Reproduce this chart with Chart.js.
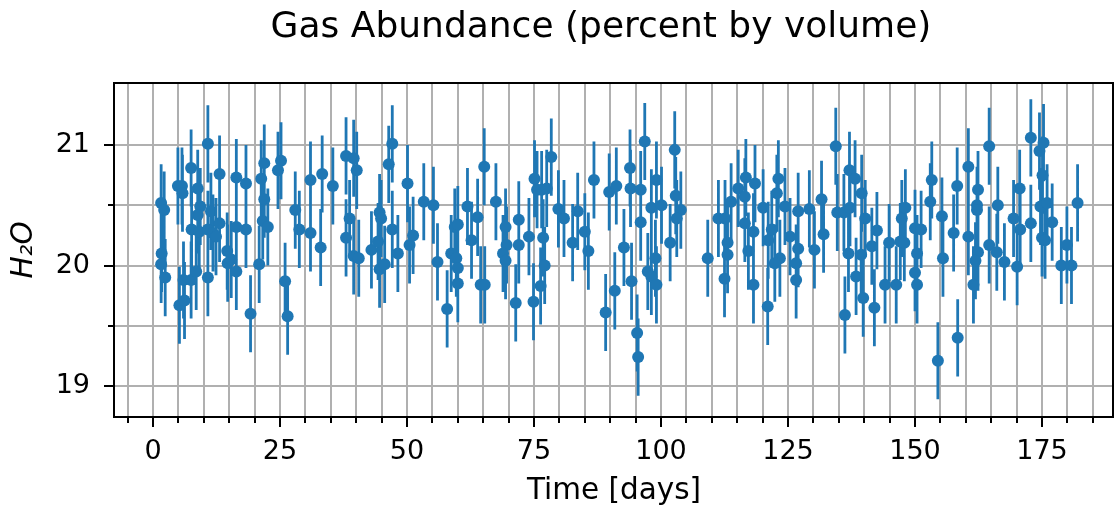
<!DOCTYPE html>
<html>
<head>
<meta charset="utf-8">
<script src="https://cdn.jsdelivr.net/npm/chart.js@4.4.1/dist/chart.umd.min.js"></script>
<style>
  html, body { margin: 0; padding: 0; background: #fff; }
  canvas { display: block; }
</style>
</head>
<body>
<canvas id="abundancia" width="1114" height="510"></canvas>
<script>
const titulo = "Gas Abundance (percent by volume)";

const days = [
  1.6, 2.2, 1.7, 1.6, 2.4, 4.9, 5.7, 5.8, 5.2, 6.2, 6.0, 7.5, 8.5, 7.5, 8.8, 9.3, 8.8, 7.6, 9.1, 10.8,
  10.8, 11.8, 11.4, 10.8, 13.1, 13.1, 12.4, 14.6, 14.7, 16.4, 15.4, 16.4, 18.3, 18.3, 16.4, 19.2, 21.3, 21.9, 20.9, 21.6,
  21.9, 25.2, 24.6, 22.6, 26.0, 26.5, 28.0, 28.8, 31.0, 31.0, 33.3, 33.0, 35.4, 38.0, 39.5, 40.1, 38.7, 38.0, 39.5, 40.5,
  43.0, 44.6, 44.9, 44.3, 44.6, 45.6, 47.1, 46.4, 47.1, 48.2, 50.1, 50.5, 51.2, 53.3, 55.2, 56.0, 57.9, 58.7, 59.4, 60.0,
  59.7, 60.0, 60.0, 61.9, 62.7, 63.9, 65.2, 64.5, 65.3, 67.5, 69.4, 69.6, 68.9, 69.4, 71.4, 72.0, 72.0, 74.0, 75.1, 74.9,
  75.6, 76.5, 77.5, 78.4, 76.8, 77.1, 76.3, 79.8, 80.9, 82.6, 83.6, 85.0, 85.7, 86.8, 89.8, 91.2, 89.1, 90.9, 92.7, 93.9,
  94.0, 94.2, 96.0, 96.0, 95.3, 95.5, 96.8, 97.4, 99.1, 98.1, 100.1, 98.9, 98.1, 99.1, 102.7, 102.9, 103.9, 103.1, 101.8, 109.2,
  111.3, 112.6, 113.1, 113.1, 112.5, 113.8, 115.2, 116.7, 116.5, 118.5, 116.5, 118.2, 117.2, 118.2, 120.1, 121.0, 121.1, 121.8, 122.8, 123.1,
  124.4, 123.4, 122.4, 125.4, 127.0, 127.0, 126.6, 126.6, 129.2, 130.2, 131.6, 132.0, 134.4, 134.7, 136.0, 136.2, 137.1, 138.2, 137.2, 136.9,
  139.5, 140.2, 139.4, 138.4, 139.8, 141.5, 142.5, 142.0, 144.9, 144.1, 146.3, 147.4, 148.1, 147.1, 147.9, 150.0, 151.2, 150.4, 150.0, 150.4,
  153.3, 153.0, 155.3, 155.5, 154.5, 158.3, 157.6, 158.4, 160.5, 162.4, 162.2, 162.2, 160.5, 162.4, 161.9, 161.5, 164.6, 166.3, 164.6, 166.1,
  167.6, 169.4, 170.6, 170.1, 170.7, 172.8, 172.8, 174.5, 175.3, 175.1, 174.7, 176.0, 177.0, 175.0, 175.6, 178.8, 179.9, 180.8, 182.0
];
const h2o = [
  20.52, 20.46, 20.10, 20.01, 19.90, 20.66, 20.66, 20.60, 19.67, 19.71, 19.88, 19.88, 19.95, 20.81, 20.64, 20.49, 20.42, 20.30, 20.28, 21.01,
  20.30, 20.27, 20.45, 19.90, 20.76, 20.35, 20.24, 20.12, 20.02, 19.95, 20.05, 20.73, 20.68, 20.30, 20.32, 19.60, 20.72, 20.85, 20.01, 20.37,
  20.55, 20.87, 20.79, 20.32, 19.87, 19.58, 20.46, 20.30, 20.71, 20.27, 20.76, 20.15, 20.66, 20.91, 20.89, 20.79, 20.39, 20.23, 20.08, 20.06,
  20.13, 20.44, 20.39, 20.20, 19.97, 20.01, 20.30, 20.84, 21.01, 20.10, 20.68, 20.17, 20.25, 20.53, 20.50, 20.03, 19.64, 20.10, 20.32, 20.34,
  20.06, 19.98, 19.85, 20.49, 20.21, 20.40, 20.82, 19.84, 19.84, 20.53, 20.32, 20.17, 20.10, 20.04, 19.69, 20.38, 20.17, 20.24, 20.72, 19.70,
  20.63, 20.63, 20.64, 20.90, 20.23, 20.00, 19.83, 20.47, 20.39, 20.19, 20.45, 20.28, 20.12, 20.71, 20.61, 20.66, 19.61, 19.79, 20.15, 20.81,
  20.64, 19.87, 20.63, 20.36, 19.44, 19.24, 21.03, 19.95, 20.71, 20.48, 20.50, 20.06, 19.91, 19.84, 20.96, 20.58, 20.46, 20.39, 20.19, 20.06,
  20.39, 20.39, 20.19, 20.09, 19.89, 20.53, 20.64, 20.73, 20.57, 20.68, 20.35, 20.28, 20.12, 19.84, 20.48, 19.66, 20.21, 20.30, 20.60, 20.72,
  20.49, 20.06, 20.02, 20.24, 20.45, 20.14, 20.02, 19.88, 20.47, 20.13, 20.55, 20.26, 20.99, 20.44, 20.44, 19.59, 20.79, 20.72, 20.48, 20.10,
  20.60, 20.39, 20.09, 19.91, 19.73, 20.16, 20.29, 19.65, 20.19, 19.84, 19.84, 20.39, 20.48, 20.20, 20.19, 20.31, 20.30, 20.10, 19.94, 19.84,
  20.71, 20.53, 20.41, 20.06, 19.21, 20.66, 20.27, 19.40, 20.82, 20.63, 20.50, 20.46, 20.24, 20.11, 20.04, 19.84, 20.99, 20.50, 20.17, 20.11,
  20.03, 20.39, 20.64, 19.99, 20.30, 21.06, 20.35, 20.95, 21.02, 20.75, 20.49, 20.52, 20.36, 20.23, 20.21, 20.00, 20.17, 20.00, 20.52
];
const h2oErr = 0.32;

// marcas dos eixos (maiores com rótulo, menores só grade)
const xTicks = [0, 25, 50, 75, 100, 125, 150, 175];
const xGrid = [-5, 0, 5, 10, 15, 20, 25, 30, 35, 40, 45, 50, 55, 60, 65, 70, 75, 80, 85, 90, 95,
  100, 105, 110, 115, 120, 125, 130, 135, 140, 145, 150, 155, 160, 165, 170, 175, 180, 185];
const yTicks = [19, 20, 21];
const yGrid = [19, 19.5, 20, 20.5, 21];

const azul = "#1f77b4";

const pontos = days.map((d, i) => ({ x: d, y: h2o[i] }));
// cada barra de erro vira um segmento, separado por um ponto vazio
const barras = [];
days.forEach((d, i) => {
  barras.push({ x: d, y: h2o[i] - h2oErr });
  barras.push({ x: d, y: h2o[i] + h2oErr });
  barras.push({ x: d, y: null });
});

const moldura = {
  id: "moldura",
  afterDraw(chart) {
    const { ctx, chartArea: a, scales } = chart;
    ctx.save();
    ctx.strokeStyle = "#000";
    ctx.lineWidth = 2;
    ctx.beginPath();
    ctx.moveTo(a.left, a.top);
    ctx.lineTo(a.right - 1, a.top);
    ctx.lineTo(a.right - 1, a.bottom);
    ctx.lineTo(a.left, a.bottom);
    ctx.closePath();
    ctx.stroke();

    ctx.beginPath();
    xGrid.forEach(v => {
      const px = Math.round(scales.x.getPixelForValue(v));
      const len = xTicks.includes(v) ? 10 : 6;
      ctx.moveTo(px, a.bottom);
      ctx.lineTo(px, a.bottom + len);
    });
    yGrid.forEach(v => {
      const py = Math.round(scales.y.getPixelForValue(v));
      const len = yTicks.includes(v) ? 10 : 6;
      ctx.moveTo(a.left, py);
      ctx.lineTo(a.left - len, py);
    });
    ctx.stroke();

    ctx.fillStyle = "#000";
    ctx.font = "36px 'DejaVu Sans'";
    ctx.textAlign = "center";
    ctx.textBaseline = "alphabetic";
    ctx.fillText(titulo, 601, 37);
    ctx.restore();
  }
};

Chart.defaults.font.family = "'DejaVu Sans', sans-serif";
Chart.defaults.color = "#000";

new Chart(document.getElementById("abundancia"), {
  type: "scatter",
  data: {
    datasets: [
      {
        label: "H2O",
        data: pontos,
        pointRadius: 6,
        pointBackgroundColor: azul,
        pointBorderWidth: 0,
        showLine: false,
        order: 0,
      },
      {
        label: "erro",
        data: barras,
        showLine: true,
        spanGaps: false,
        borderColor: azul,
        borderWidth: 2.8,
        borderCapStyle: "butt",
        pointRadius: 0,
        order: 1,
      },
    ],
  },
  options: {
    responsive: false,
    animation: false,
    events: [],
    layout: { autoPadding: false, padding: { top: 83, right: 0, bottom: 0, left: 0 } },
    plugins: {
      legend: { display: false },
      tooltip: { enabled: false },
    },
    scales: {
      x: {
        type: "linear",
        min: -7.68,
        max: 189.17,
        afterBuildTicks: scale => { scale.ticks = xGrid.map(v => ({ value: v })); },
        afterFit: scale => {
          scale.height = 93;
          scale.paddingLeft = 0;
          scale.paddingRight = 0;
        },
        ticks: {
          autoSkip: false,
          maxRotation: 0,
          padding: 19,
          font: { size: 27 },
          callback: v => (xTicks.includes(v) ? String(v) : ""),
        },
        grid: { color: "#b0b0b0", lineWidth: 2, drawTicks: false },
        border: { display: false },
        title: {
          display: true,
          text: "Time [days]",
          font: { size: 29.5 },
          padding: { top: 0, bottom: 0.5 },
        },
      },
      y: {
        type: "linear",
        min: 18.743,
        max: 21.515,
        afterBuildTicks: scale => { scale.ticks = yGrid.map(v => ({ value: v })); },
        afterFit: scale => {
          scale.width = 114;
          scale.paddingTop = 0;
          scale.paddingBottom = 0;
        },
        ticks: {
          autoSkip: false,
          padding: 24,
          font: { size: 27 },
          callback: v => (yTicks.includes(v) ? String(v) : ""),
        },
        grid: { color: "#b0b0b0", lineWidth: 2, drawTicks: false },
        border: { display: false },
        title: {
          display: true,
          text: "H₂O",
          font: { size: 29.5, style: "italic" },
          padding: { top: 6.5, bottom: 0 },
        },
      },
    },
  },
  plugins: [moldura],
});
</script>
</body>
</html>
